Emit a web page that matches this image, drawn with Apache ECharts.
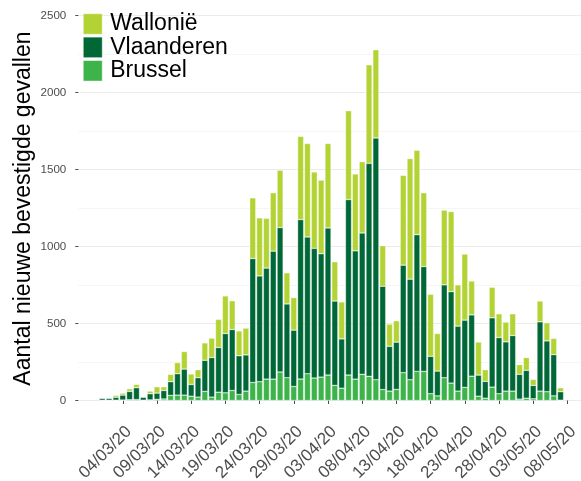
<!DOCTYPE html>
<html>
<head>
<meta charset="utf-8">
<script src="https://cdn.jsdelivr.net/npm/echarts@6/dist/echarts.min.js"></script>
<style>
html,body{margin:0;padding:0;background:#fff;}
#chart{width:581px;height:481px;}
</style>
</head>
<body>
<div id="chart"></div>
<script>
// Categories (days), incl. empty padding days at both ends
const dates = [
"27/02/20","28/02/20","29/02/20",
"01/03/20","02/03/20","03/03/20","04/03/20","05/03/20","06/03/20","07/03/20","08/03/20","09/03/20","10/03/20",
"11/03/20","12/03/20","13/03/20","14/03/20","15/03/20","16/03/20","17/03/20","18/03/20","19/03/20","20/03/20",
"21/03/20","22/03/20","23/03/20","24/03/20","25/03/20","26/03/20","27/03/20","28/03/20","29/03/20","30/03/20","31/03/20",
"01/04/20","02/04/20","03/04/20","04/04/20","05/04/20","06/04/20","07/04/20","08/04/20","09/04/20","10/04/20",
"11/04/20","12/04/20","13/04/20","14/04/20","15/04/20","16/04/20","17/04/20","18/04/20","19/04/20","20/04/20",
"21/04/20","22/04/20","23/04/20","24/04/20","25/04/20","26/04/20","27/04/20","28/04/20","29/04/20","30/04/20",
"01/05/20","02/05/20","03/05/20","04/05/20","05/05/20","06/05/20","07/05/20","08/05/20","09/05/20","10/05/20"
];
const padBefore = 3, padAfter = 3; // empty days 27/02-29/02 and 08/05-10/05

// Daily values 01/03/20 .. 07/05/20
const brussel = [2,2,2,3,5,6,2,4,8,10, 33,35,35,28,22,59,22,54,50,65,
  39,61,117,122,139,139,185,148,91,139, 174,146,152,165,98,80,165,139,170,157,
  135,71,61,72,181,135,189,189,44,30, 148,113,61,85,158,28,15,87,44,61,
  61,9,15,11,61,57,30,2];
const vlaanderen = [13,13,19,32,54,77,20,40,40,55, 89,139,169,76,126,202,257,290,385,396,
  252,235,805,687,721,831,938,479,366,1036, 888,842,801,956,548,320,1140,833,918,1383,
  1570,671,291,307,698,653,888,681,243,161, 603,594,422,437,398,137,109,450,365,320,
  361,161,181,87,450,330,268,55];
const wallonie = [0,0,12,13,17,21,0,17,41,24, 48,72,114,68,52,113,126,183,244,187,
  161,174,394,377,323,379,372,202,211,540, 607,496,478,548,255,240,577,499,463,640,
  573,263,144,139,583,783,548,479,403,244, 485,520,268,429,220,215,76,198,154,128,
  141,63,83,39,135,118,105,26];

const yTicks = [0,500,1000,1500,2000,2500];
const tickDates = ["04/03/20","09/03/20","14/03/20","19/03/20","24/03/20","29/03/20","03/04/20",
  "08/04/20","13/04/20","18/04/20","23/04/20","28/04/20","03/05/20","08/05/20"];

function pad(arr){
  return new Array(padBefore).fill(null).concat(arr, new Array(padAfter).fill(null));
}
const showTick = (idx, val) => tickDates.indexOf(dates[idx]) >= 0;

const colors = {W:'#b3d334', V:'#006837', B:'#3cb44a'};
const FONT = 'Liberation Sans, Arial, sans-serif';

const chart = echarts.init(document.getElementById('chart'), null, {renderer:'canvas'});
const barStyle = c => ({color:c, borderColor:'rgba(255,255,255,0.7)', borderWidth:0.5});
chart.setOption({
  animation:false,
  textStyle:{fontFamily:FONT},
  grid:{left:78.3, width:506.2, top:-1.4, height:401.9, containLabel:false, outerBoundsMode:'none'},
  legend:{
    orient:'vertical', left:83, top:12.5, padding:0, itemWidth:19, itemHeight:20.6, itemGap:0.4,
    icon:'rect',
    data:['Wallonië','Vlaanderen','Brussel'],
    textStyle:{fontSize:23, color:'#000', fontFamily:FONT, lineHeight:20.6, padding:[0,0,0,3]},
    itemStyle:{borderColor:'#fff', borderWidth:0.5}
  },
  xAxis:{
    type:'category', data:dates, offset:17.5,
    axisLine:{show:false},
    axisTick:{show:true, interval:showTick, length:3.5, alignWithLabel:true, lineStyle:{color:'#4d4d4d', width:1}},
    axisLabel:{interval:showTick, rotate:45, fontSize:17, color:'#4d4d4d', margin:5, fontFamily:FONT,
      align:'right', verticalAlign:'top'},
    splitLine:{show:false}
  },
  yAxis:{
    type:'value', min:0, max:2610, interval:500,
    name:'Aantal nieuwe bevestigde gevallen', nameLocation:'middle', nameGap:43, nameMoveOverlap:false,
    nameTextStyle:{fontSize:23, color:'#000', fontFamily:FONT, padding:[0,18,0,0]},
    axisLine:{show:false},
    axisTick:{show:true, length:3, lineStyle:{color:'#4d4d4d'}},
    axisLabel:{fontSize:11.6, color:'#4d4d4d', margin:12, showMaxLabel:false, fontFamily:FONT,
      formatter: v => yTicks.indexOf(v) >= 0 ? String(v) : ''},
    splitLine:{show:true, lineStyle:{color:'#ebebeb', width:1}},
    minorTick:{show:false, splitNumber:2},
    minorSplitLine:{show:true, lineStyle:{color:'#f3f3f3', width:0.8}}
  },
  series:[
    {name:'Brussel', type:'bar', stack:'t', data:pad(brussel), barCategoryGap:'12%', itemStyle:barStyle(colors.B)},
    {name:'Vlaanderen', type:'bar', stack:'t', data:pad(vlaanderen), itemStyle:barStyle(colors.V)},
    {name:'Wallonië', type:'bar', stack:'t', data:pad(wallonie), itemStyle:barStyle(colors.W)}
  ]
});
</script>
</body>
</html>
